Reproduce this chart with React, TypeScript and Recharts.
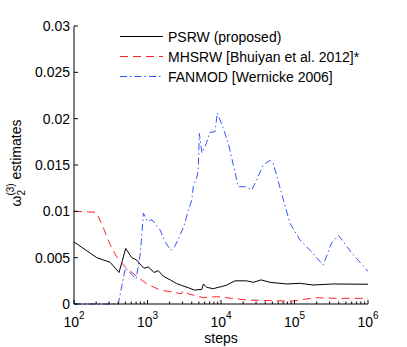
import React from "react";
import { LineChart, Line, XAxis, YAxis } from "recharts";

const FONT = "'Liberation Sans', Arial, sans-serif";

// x ticks: decades plus log minor ticks
const xMajorTicks = [100, 1000, 10000, 100000, 1000000];
const xMinorFactors = [2, 3, 4, 5, 6, 7, 8, 9];
const yTicks = [0, 0.005, 0.01, 0.015, 0.02, 0.025, 0.03];

const psrwSteps = [
  100, 204, 310, 410, 505, 610, 710, 815, 895, 1025, 1230, 1400, 1640, 2040, 2500,
  2920, 3590, 4350, 5490, 5760, 6380, 7860, 9130, 10500, 12000, 15500, 22300, 27600,
  35000, 46500, 78500, 118000, 180000, 336000, 1000000,
];
const psrwValues = [
  0.0067, 0.005, 0.0045, 0.0034, 0.006, 0.005, 0.00475, 0.0042, 0.00385, 0.004, 0.0034,
  0.0036, 0.003, 0.0026, 0.0022, 0.002, 0.00176, 0.0015, 0.00158, 0.00216, 0.0018,
  0.00165, 0.0018, 0.0019, 0.00205, 0.0025, 0.0025, 0.00234, 0.0026, 0.00234, 0.00216,
  0.00223, 0.00205, 0.00216, 0.00213,
];

const mhsrwSteps = [
  100, 200, 243, 310, 380, 495, 710, 970, 1480, 2040, 2900, 3000, 3600, 5760, 8700,
  10700, 22300, 46500, 95000, 132000, 200000, 372000, 1000000,
];
const mhsrwValues = [
  0.01, 0.0099, 0.0085, 0.0064, 0.0051, 0.004, 0.003, 0.0022, 0.0015, 0.00133, 0.0011,
  0.0014, 0.0011, 0.00068, 0.00079, 0.00072, 0.00043, 0.00036, 0.00032, 0.0005, 0.00068,
  0.00061, 0.00061,
];

const fanmodSteps = [
  100, 400, 500, 700, 800, 880, 1000, 1150, 1480, 1740, 2070, 2350, 3100, 3590, 4000,
  4200, 4700, 4900, 5070, 5500, 6300, 7000, 8300, 8900, 10700, 12600, 17200, 21400,
  26300, 30500, 37600, 46200, 51300, 70800, 87000, 119000, 172000, 245000, 320000,
  398000, 462000, 603000, 955000, 1000000,
];
const fanmodValues = [
  0, 0, 0.0039, 0.0027, 0.0055, 0.0098, 0.0089, 0.0091, 0.008, 0.0067, 0.0058, 0.0062,
  0.0083, 0.0101, 0.0112, 0.0127, 0.0137, 0.0145, 0.0184, 0.0163, 0.0173, 0.0185,
  0.0186, 0.0206, 0.019, 0.0173, 0.01266, 0.01266, 0.0123, 0.0134, 0.015, 0.0155,
  0.0152, 0.0112, 0.0087, 0.0069, 0.0056, 0.0042, 0.0066, 0.0074, 0.0067, 0.0055,
  0.0037, 0.0035,
];

const zip = (xs: number[], ys: number[]) => xs.map((x, i) => ({ steps: x, value: ys[i] }));
const psrwData = zip(psrwSteps, psrwValues);
const mhsrwData = zip(mhsrwSteps, mhsrwValues);
const fanmodData = zip(fanmodSteps, fanmodValues);

const xTicks = xMajorTicks.flatMap((d) =>
  d < 1000000 ? [d, ...xMinorFactors.map((f) => f * d)] : [d]
);

const legendItems = [
  { label: "PSRW (proposed)", color: "#000", dash: undefined },
  { label: "MHSRW [Bhuiyan et al. 2012]*", color: "#ff2020", dash: "8 5" },
  { label: "FANMOD [Wernicke 2006]", color: "#3355ff", dash: "7 3 1.5 3" },
];

function XTick(props: any) {
  const { x, y, payload } = props;
  const lg = Math.log10(payload.value);
  const exp = Math.round(lg);
  const major = Math.abs(lg - exp) < 1e-9;
  return (
    <g>
      <line x1={x} x2={x} y1={y} y2={y - (major ? 4 : 2.5)} stroke="#000" />
      {major && (
        <text x={x} y={y + 23} textAnchor="middle" fontSize={14} fontFamily={FONT} fill="#000">
          10
          <tspan dy={-8} fontSize={10}>
            {exp}
          </tspan>
        </text>
      )}
    </g>
  );
}

function YTick(props: any) {
  const { x, y, payload } = props;
  return (
    <g>
      <line x1={x} x2={x + 4} y1={y} y2={y} stroke="#000" />
      <text x={x - 4} y={y} dy="0.36em" textAnchor="end" fontSize={14} fontFamily={FONT} fill="#000">
        {String(payload.value)}
      </text>
    </g>
  );
}

export default function App() {
  return (
    <div style={{ position: "absolute", left: 0, top: 0, width: 407, height: 347, background: "#fff" }}>
      <LineChart width={407} height={347} margin={{ top: 26, right: 39, bottom: 0, left: 0 }}>
        <XAxis
          dataKey="steps"
          type="number"
          scale="log"
          domain={[100, 1000000]}
          ticks={xTicks}
          interval={0}
          allowDataOverflow
          height={43}
          tickSize={0}
          tickMargin={0}
          tickLine={false}
          axisLine={{ stroke: "#000" }}
          tick={<XTick />}
          label={{ value: "steps", position: "insideBottom", offset: 4, fontSize: 14, fontFamily: FONT, fill: "#000" }}
        />
        <YAxis
          type="number"
          domain={[0, 0.03]}
          ticks={yTicks}
          interval={0}
          width={74}
          tickSize={0}
          tickMargin={0}
          tickLine={false}
          axisLine={{ stroke: "#000" }}
          tick={<YTick />}
        />
        <Line
          data={psrwData}
          dataKey="value"
          type="linear"
          stroke="#000"
          strokeWidth={1}
          dot={false}
          isAnimationActive={false}
        />
        <Line
          data={mhsrwData}
          dataKey="value"
          type="linear"
          stroke="#ff2020"
          strokeWidth={1}
          strokeDasharray="8 5"
          dot={false}
          isAnimationActive={false}
        />
        <Line
          data={fanmodData}
          dataKey="value"
          type="linear"
          stroke="#3355ff"
          strokeWidth={1}
          strokeDasharray="7 3 1.5 3"
          dot={false}
          isAnimationActive={false}
        />
      </LineChart>
      <svg width={407} height={347} style={{ position: "absolute", left: 0, top: 0, pointerEvents: "none" }}>
        <text
          transform="translate(20.5,163) rotate(-90)"
          textAnchor="middle"
          fontSize={14}
          fontFamily={FONT}
          fill="#000"
        >
          ω
          <tspan fontSize={10} dy={4}>
            2
          </tspan>
          <tspan fontSize={10} dx={-5.6} dy={-11}>
            (3)
          </tspan>
          <tspan dy={7}> estimates</tspan>
        </text>
        {legendItems.map((it, i) => (
          <g key={it.label}>
            <line
              x1={120}
              x2={163}
              y1={36.5 + i * 20}
              y2={36.5 + i * 20}
              stroke={it.color}
              strokeDasharray={it.dash}
            />
            <text x={168} y={36.5 + i * 20} dy="0.36em" fontSize={14} fontFamily={FONT} fill="#000">
              {it.label}
            </text>
          </g>
        ))}
      </svg>
    </div>
  );
}
